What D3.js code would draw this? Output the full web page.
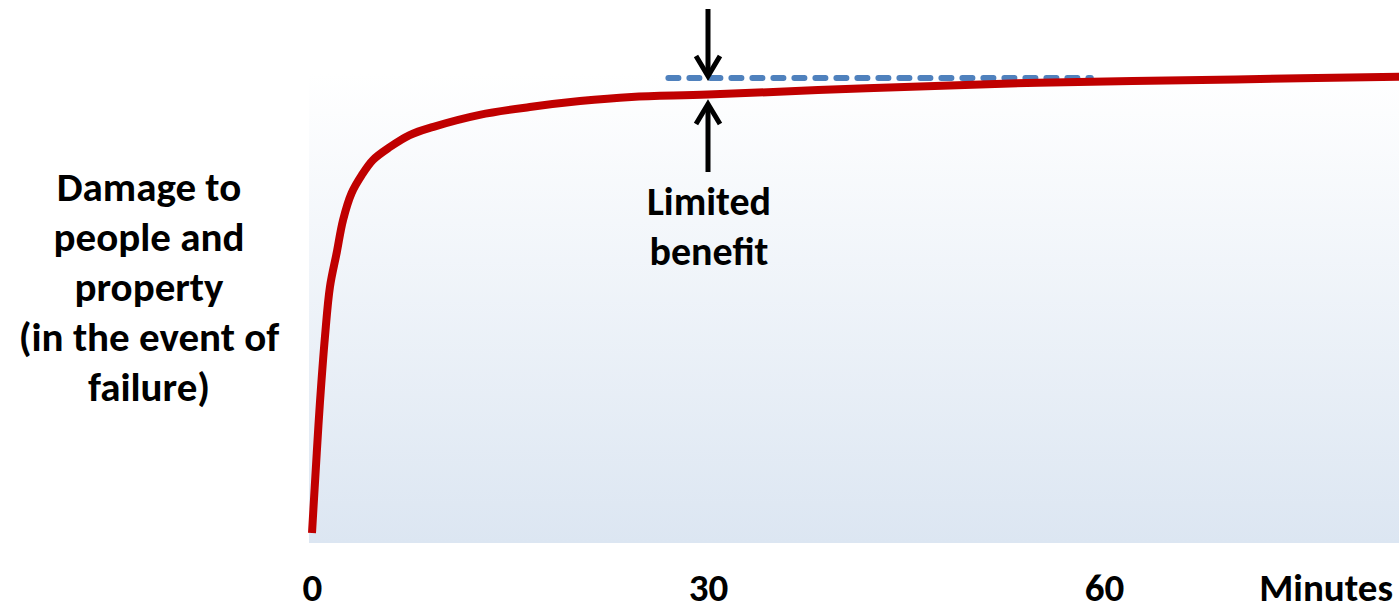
<!DOCTYPE html>
<html>
<head>
<meta charset="utf-8">
<script src="https://cdn.jsdelivr.net/npm/d3@7"></script>
<style>
  body { margin: 0; background: #ffffff; }
  svg { display: block; }
  text { font-family: Calibri, Carlito, Lato, sans-serif; font-weight: 700; fill: #000; }
</style>
</head>
<body>
<svg id="chart" width="1399" height="613"></svg>
<script>
// Damage curve: time since start (minutes) vs. damage level (0–100)
const minutes = [0, 0.36, 0.6, 0.98, 1.36, 1.87, 2.35, 3.0, 3.77, 4.62, 5.9, 7.4, 9.2, 12.7, 16.5, 20.3, 24.2, 30, 42, 55, 70, 82.4];
const damage  = [0, 17.4, 28.3, 42.6, 53.5, 60.9, 68.0, 73.9, 77.8, 81.1, 83.9, 86.5, 88.3, 90.9, 92.6, 93.9, 94.8, 95.3, 96.7, 97.9, 98.6, 99.2];

// Reference level reached by waiting longer, and the span it is drawn over
const benefitLevel = 98.9;
const benefitSpan = [27, 59];
const benefitAt = 30;

const tickValues = [0, 30, 60];
const axisTitle = "Minutes";
const yLabelLines = ["Damage to", "people and", "property", "(in the event of", "failure)"];
const noteLines = ["Limited", "benefit"];

const svg = d3.select("#chart");
const W = 1399, H = 613;

const x = d3.scaleLinear().domain([0, 60]).range([312, 1104]);
const y = d3.scaleLinear().domain([0, 100]).range([533, 73]);

// Background panel with soft vertical gradient
const defs = svg.append("defs");
const grad = defs.append("linearGradient")
  .attr("id", "panelFill").attr("x1", 0).attr("y1", 0).attr("x2", 0).attr("y2", 1);
grad.append("stop").attr("offset", "0%").attr("stop-color", "#ffffff");
grad.append("stop").attr("offset", "100%").attr("stop-color", "#dce6f2");

svg.append("rect")
  .attr("x", 309).attr("y", y(100))
  .attr("width", W - 309).attr("height", 543 - y(100))
  .attr("fill", "url(#panelFill)");

// Dashed reference line
svg.append("line")
  .attr("x1", x(benefitSpan[0])).attr("x2", x(benefitSpan[1]))
  .attr("y1", y(benefitLevel)).attr("y2", y(benefitLevel))
  .attr("stroke", "#4f81bd").attr("stroke-width", 6)
  .attr("stroke-linecap", "round").attr("stroke-dasharray", "10,11");

// Damage curve
const pts = minutes.map((m, i) => [m, damage[i]]);
const line = d3.line().x(d => x(d[0])).y(d => y(d[1])).curve(d3.curveCatmullRom.alpha(0.5));
svg.append("path")
  .attr("d", line(pts))
  .attr("fill", "none").attr("stroke", "#c00000").attr("stroke-width", 8)
  .attr("stroke-linejoin", "round");

// Arrows pointing at the gap
const ax = x(benefitAt);
const arrowG = svg.append("g").attr("stroke", "#000").attr("stroke-width", 5).attr("fill", "none");
const tipDown = y(benefitLevel);
arrowG.append("line").attr("x1", ax).attr("x2", ax).attr("y1", 9).attr("y2", tipDown - 3);
arrowG.append("path").attr("d", `M${ax - 12},${tipDown - 22} L${ax},${tipDown - 2} L${ax + 12},${tipDown - 22}`)
  .attr("stroke-linejoin", "miter");
const tipUp = 102;
arrowG.append("line").attr("x1", ax).attr("x2", ax).attr("y1", tipUp + 3).attr("y2", 172);
arrowG.append("path").attr("d", `M${ax - 12},${tipUp + 22} L${ax},${tipUp + 2} L${ax + 12},${tipUp + 22}`)
  .attr("stroke-linejoin", "miter");

// Note text
svg.append("g").selectAll("text").data(noteLines).join("text")
  .attr("x", ax + 1).attr("y", (d, i) => 215 + i * 50)
  .attr("text-anchor", "middle").attr("font-size", 40)
  .text(d => d);

// Y label
svg.append("g").selectAll("text").data(yLabelLines).join("text")
  .attr("x", 149).attr("y", (d, i) => 201 + i * 50)
  .attr("text-anchor", "middle").attr("font-size", 41)
  .text(d => d);

// X axis: tick labels only
const xAxis = d3.axisBottom(x).tickValues(tickValues).tickSize(0).tickPadding(0).tickFormat(d3.format("d"));
const gx = svg.append("g").attr("transform", "translate(0,601)").call(xAxis);
gx.select(".domain").remove();
gx.attr("font-size", 39).attr("font-family", null);
gx.selectAll("text")
  .attr("dy", 0).attr("y", 0)
  .attr("font-size", 39)
  .style("font-family", "Calibri, Carlito, Lato, sans-serif")
  .style("font-weight", 700).attr("fill", "#000");

svg.append("text")
  .attr("x", 1393).attr("y", 601)
  .attr("text-anchor", "end").attr("font-size", 39)
  .text(axisTitle);
</script>
</body>
</html>
